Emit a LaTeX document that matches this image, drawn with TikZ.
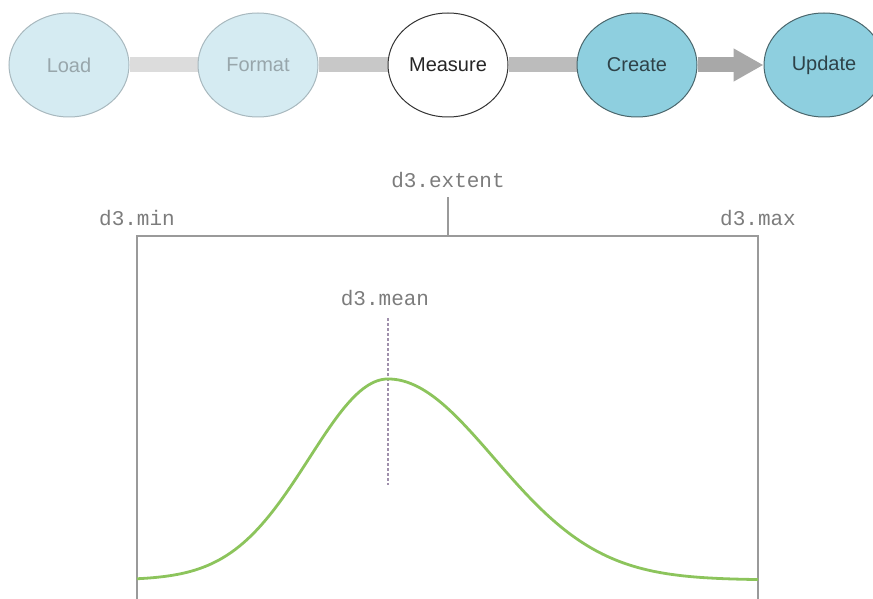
\documentclass[tikz,border=0pt]{standalone}
\usepackage{fontspec}
\setmainfont{Liberation Sans}
\newfontfamily\codefont{Liberation Mono}
\usetikzlibrary{arrows.meta,backgrounds}
\definecolor{paleblue}{HTML}{D5EBF2}
\definecolor{paleedge}{HTML}{A8B8BE}
\definecolor{paletext}{HTML}{98A6AB}
\definecolor{tealfill}{HTML}{8ECFDF}
\definecolor{tealedge}{HTML}{4A666C}
\definecolor{tealtext}{HTML}{2E4248}
\definecolor{bandA}{HTML}{DCDCDC}
\definecolor{bandB}{HTML}{C8C8C8}
\definecolor{bandC}{HTML}{BCBCBC}
\definecolor{bandD}{HTML}{A8A8A8}
\definecolor{boxgray}{HTML}{9A9A9A}
\definecolor{labelgray}{HTML}{7C7C7C}
\definecolor{curvegreen}{HTML}{8CC45C}
\definecolor{meanline}{HTML}{A090AC}
\tikzset{
  stage/.style={ellipse, minimum width=120pt, minimum height=104pt, inner sep=0pt,
    line width=1pt, font=\fontsize{20}{24}\selectfont},
  donestage/.style={stage, fill=paleblue, draw=paleedge, text=paletext},
  curstage/.style={stage, fill=white, draw=black!80, text=black!85},
  nextstage/.style={stage, fill=tealfill, draw=tealedge, text=tealtext},
  band/.style={line width=15pt},
  codelabel/.style={font=\codefont\fontsize{21}{24}\selectfont, text=labelgray, inner sep=0pt},
  boxline/.style={draw=boxgray, line width=1.8pt},
}
\usetikzlibrary{shapes.geometric}
\begin{document}
\begin{tikzpicture}[x=1pt,y=-1pt]
\useasboundingbox (0,0) rectangle (873,599);
\node[donestage] (load) at (69,65) {Load};
\node[donestage] (format) at (258,65) {Format};
\node[curstage] (measure) at (448,65) {Measure};
\node[nextstage] (create) at (637,65) {Create};
\node[nextstage] (update) at (824,65) {Update};
\begin{scope}[on background layer]
\draw[band, bandA] (load) -- (format);
\draw[band, bandB] (format) -- (measure);
\draw[band, bandC] (measure) -- (create);
\draw[band, bandD, -{Triangle[length=30pt,width=31pt]}] (create) -- (update);
\end{scope}
% labels
\node[codelabel] (extent) at (448,180) {d3.extent};
\node[codelabel] (dmin) at (137,218) {d3.min};
\node[codelabel] (dmax) at (758,218) {d3.max};
\node[codelabel] (dmean) at (385,298) {d3.mean};
% box
\coordinate (bl) at (137,620);
\coordinate (tl) at (137,236);
\coordinate (tr) at (758,236);
\coordinate (br) at (758,620);
\coordinate (tick) at (448,236);
\coordinate (ticktop) at (448,197);
\draw[boxline] (bl) -- (tl) -- (tr) -- (br);
\draw[boxline, line width=1.5pt] (tick) -- (ticktop);
% mean line
\coordinate (meantop) at (388,318);
\coordinate (meanbot) at (388,485);
\draw[meanline, line width=1.2pt, dash pattern=on 3pt off 2pt] (meantop) -- (meanbot);
% curve
\draw[curvegreen, line width=2.8pt, line join=round]
  plot[domain=137:388, samples=90, smooth] (\x, {580-201*exp(-0.5*((\x-388)/78.7)^2)})
  -- plot[domain=388:758, samples=120, smooth] (\x, {580-201*exp(-0.5*((\x-388)/106)^2)});
\end{tikzpicture}
\end{document}
